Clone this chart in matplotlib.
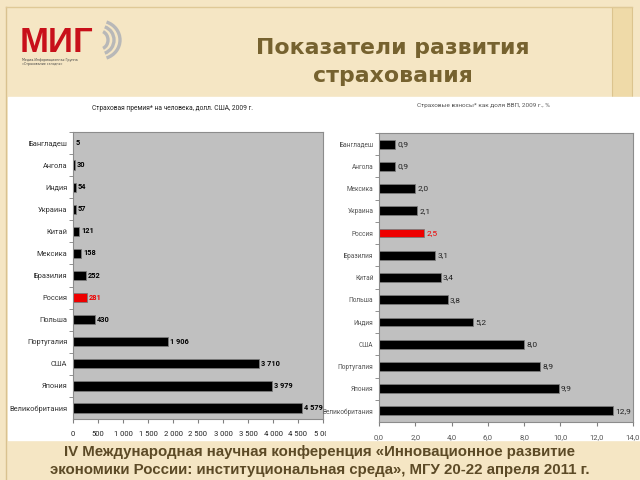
import numpy as np
import matplotlib.pyplot as plt
from matplotlib.patches import Rectangle, Arc
from matplotlib.colors import LinearSegmentedColormap
from matplotlib.transforms import Bbox

# left chart: premium per capita, USD, 2009
left_countries = ["Бангладеш", "Ангола", "Индия", "Украина", "Китай", "Мексика",
                  "Бразилия", "Россия", "Польша", "Португалия", "США", "Япония",
                  "Великобритания"]
left_values = [5, 30, 54, 57, 121, 158, 252, 281, 430, 1906, 3710, 3979, 4579]
left_labels = ["5", "30", "54", "57", "121", "158", "252", "281", "430",
               "1 906", "3 710", "3 979", "4 579"]
left_ticks = [0, 500, 1000, 1500, 2000, 2500, 3000, 3500, 4000, 4500, 5000]
left_ticklabels = ["0", "500", "1 000", "1 500", "2 000", "2 500", "3 000",
                   "3 500", "4 000", "4 500", "5 000"]

# right chart: premiums as share of GDP, %, 2009
right_countries = ["Бангладеш", "Ангола", "Мексика", "Украина", "Россия",
                   "Бразилия", "Китай", "Польша", "Индия", "США", "Португалия",
                   "Япония", "Великобритания"]
right_values = [0.9, 0.9, 2.0, 2.1, 2.5, 3.1, 3.4, 3.8, 5.2, 8.0, 8.9, 9.9, 12.9]
right_ticks = [0, 2, 4, 6, 8, 10, 12, 14]

NARROW = ["Liberation Sans Narrow", "Roboto", "DejaVu Sans"]

fig = plt.figure(figsize=(6.4, 4.8), dpi=100)

# slide background in pixel coordinates
bg = fig.add_axes([0, 0, 1, 1], zorder=-5)
bg.axis("off")
bg.add_patch(Rectangle((0, 0), 640, 480, color="#f5e6c4"))
grad = np.linspace(0, 1, 256).reshape(1, -1)
cream = LinearSegmentedColormap.from_list("cream", ["#fffefb", "#fdf7e8", "#f6e4bb"])
bg.imshow(grad, cmap=cream, extent=(7, 612, 97, 7), aspect="auto")
foot = LinearSegmentedColormap.from_list("ft", ["#f6e5be", "#f9eed2", "#f6e5be"])
bg.imshow(grad, cmap=foot, extent=(7, 640, 480, 440), aspect="auto")
bg.add_patch(Rectangle((612, 7), 20, 90, facecolor="#efdaa8", edgecolor="#dcc48e", lw=0.8))
bg.plot([6, 6], [7, 480], color="#d9c290", lw=1)
bg.plot([6, 632], [7, 7], color="#dfc997", lw=1)
bg.add_patch(Rectangle((8, 97), 632, 343, color="white"))

# logo
bg.text(20, 52, "МИГ", color="#c8101a", fontsize=25, fontweight="heavy",
        family="Liberation Sans", va="baseline", ha="left")
for w, h in ((8, 18), (14, 28), (20, 38)):
    bg.add_patch(Arc((100, 40), w * 2, h, theta1=-70, theta2=70,
                     color="#b8b8b8", lw=2.4))
bg.text(22, 59.5, "Медиа-Информационная Группа", fontsize=2.3, color="#444444", va="center")
bg.text(22, 64.5, "«Страхование сегодня»", fontsize=2.3, color="#444444", va="center")

# title and footer
title_color = "#76622f"
bg.text(393, 48, "Показатели развития", ha="center", va="center", fontsize=15.8,
        fontweight="bold", color=title_color)
bg.text(393, 76, "страхования", ha="center", va="center", fontsize=15.8,
        fontweight="bold", color=title_color)
foot_color = "#5c4a26"
bg.text(320, 452, "IV Международная научная конференция «Инновационное развитие",
        ha="center", va="center", fontsize=10.8, fontweight="bold",
        family="Liberation Sans", color=foot_color)
bg.text(320, 470, "экономики России: институциональная среда», МГУ 20-22 апреля 2011 г.",
        ha="center", va="center", fontsize=10.8, fontweight="bold",
        family="Liberation Sans", color=foot_color)

# chart subtitles
bg.text(173, 108, "Страховая премия* на человека, долл. США, 2009 г.", ha="center",
        va="center", fontsize=4.8, family=NARROW, color="#222222")
bg.text(483, 106, "Страховые взносы* как доля ВВП, 2009 г., %", ha="center",
        va="center", fontsize=4.6, family=NARROW, color="#555555")

bg.set_xlim(0, 640)
bg.set_ylim(480, 0)


def style_axes(ax, n):
    ax.set_facecolor("#c0c0c0")
    for s in ax.spines.values():
        s.set_color("#8c8c8c")
        s.set_linewidth(0.8)
    ax.set_ylim(n - 0.5, -0.5)
    ax.set_yticks(np.arange(n) - 0.5, minor=True)
    ax.tick_params(axis="y", which="major", length=0, pad=4)
    ax.tick_params(axis="y", which="minor", length=3, color="#808080")
    ax.tick_params(axis="x", length=3, color="#808080", pad=6)


# left chart
ax1 = fig.add_axes([73 / 640, 1 - 419 / 480, 250 / 640, 287 / 480])
y1 = np.arange(len(left_countries))
colors1 = ["#ee0000" if c == "Россия" else "black" for c in left_countries]
ax1.barh(y1, left_values, height=0.42, color=colors1, edgecolor="#7a7a7a", linewidth=0.6)
ax1.set_xlim(0, 5000)
style_axes(ax1, len(left_countries))
ax1.set_yticks(y1)
ax1.set_yticklabels(left_countries, fontsize=5.3, family=NARROW, color="#333333")
ax1.set_xticks(left_ticks)
ax1.set_xticklabels(left_ticklabels, fontsize=5.5, family=NARROW, color="#222222")
# the pasted picture cuts the last tick label in half
last = ax1.get_xticklabels()[-1]
last.set_clip_box(Bbox([[0, 0], [326, 480]]))
last.set_clip_on(True)
for yi, v, lab, c in zip(y1, left_values, left_labels, colors1):
    ax1.annotate(lab, (v, yi), xytext=(1.5, 0), textcoords="offset points",
                 ha="left", va="center", fontsize=5.3, fontweight="bold",
                 family=NARROW, color="#ee0000" if c != "black" else "black")

# right chart
ax2 = fig.add_axes([379 / 640, 1 - 422 / 480, 254 / 640, 289 / 480])
y2 = np.arange(len(right_countries))
colors2 = ["#ee0000" if c == "Россия" else "black" for c in right_countries]
ax2.barh(y2, right_values, height=0.4, color=colors2, edgecolor="#7a7a7a", linewidth=0.6)
ax2.set_xlim(0, 14)
style_axes(ax2, len(right_countries))
ax2.set_yticks(y2)
ax2.set_yticklabels(right_countries, fontsize=4.7, family=NARROW, color="#555555")
ax2.set_xticks(right_ticks)
ax2.set_xticklabels([f"{t:.1f}".replace(".", ",") for t in right_ticks],
                    fontsize=5.5, family=NARROW, color="#555555")
for yi, v, c in zip(y2, right_values, colors2):
    ax2.annotate(f"{v:.1f}".replace(".", ","), (v, yi), xytext=(1.5, 0),
                 textcoords="offset points", ha="left", va="center", fontsize=6,
                 family=NARROW, color="#ee0000" if c != "black" else "#222222")

fig.savefig("out.png", dpi=100)
